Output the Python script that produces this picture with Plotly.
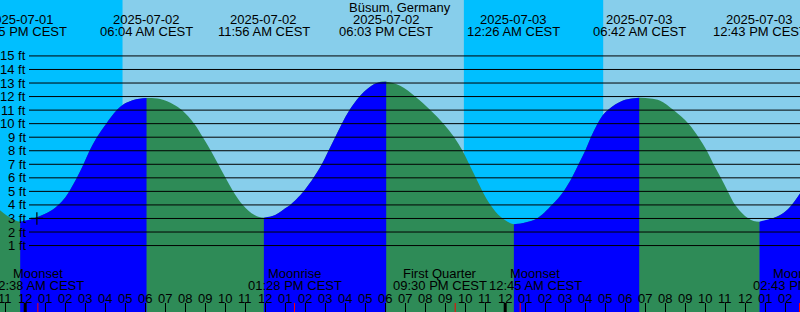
import plotly.graph_objects as go
import pandas as pd

TITLE = "Büsum, Germany"

# Tide curve (time, height in ft)
TIMES = [
    "2025-07-01 22:44", "2025-07-01 23:15", "2025-07-01 23:45",
    "2025-07-02 00:25", "2025-07-02 01:00", "2025-07-02 01:30", "2025-07-02 01:55",
    "2025-07-02 02:12", "2025-07-02 02:35", "2025-07-02 02:55", "2025-07-02 03:13",
    "2025-07-02 03:35", "2025-07-02 04:03", "2025-07-02 04:35", "2025-07-02 05:00",
    "2025-07-02 05:30", "2025-07-02 06:04",
    "2025-07-02 06:45", "2025-07-02 07:25", "2025-07-02 07:50", "2025-07-02 08:27",
    "2025-07-02 08:53", "2025-07-02 09:17", "2025-07-02 09:39", "2025-07-02 10:01",
    "2025-07-02 10:24", "2025-07-02 10:53", "2025-07-02 11:28", "2025-07-02 11:56",
    "2025-07-02 12:30", "2025-07-02 13:00", "2025-07-02 13:15", "2025-07-02 13:55",
    "2025-07-02 14:25", "2025-07-02 14:50", "2025-07-02 15:10", "2025-07-02 15:30",
    "2025-07-02 15:50", "2025-07-02 16:13", "2025-07-02 16:43", "2025-07-02 17:06",
    "2025-07-02 17:35", "2025-07-02 18:03",
    "2025-07-02 18:45", "2025-07-02 19:30", "2025-07-02 20:15", "2025-07-02 20:55",
    "2025-07-02 21:27", "2025-07-02 21:52", "2025-07-02 22:12", "2025-07-02 22:32",
    "2025-07-02 22:52", "2025-07-02 23:16", "2025-07-02 23:47", "2025-07-03 00:26",
    "2025-07-03 01:00", "2025-07-03 01:35", "2025-07-03 02:20", "2025-07-03 02:55",
    "2025-07-03 03:20", "2025-07-03 03:40", "2025-07-03 04:00", "2025-07-03 04:17",
    "2025-07-03 04:35", "2025-07-03 04:52", "2025-07-03 05:10", "2025-07-03 05:30",
    "2025-07-03 06:00", "2025-07-03 06:42",
    "2025-07-03 07:15", "2025-07-03 07:45", "2025-07-03 08:25", "2025-07-03 09:10",
    "2025-07-03 09:40", "2025-07-03 10:05", "2025-07-03 10:25", "2025-07-03 10:47",
    "2025-07-03 11:08", "2025-07-03 11:30", "2025-07-03 12:10", "2025-07-03 12:43",
    "2025-07-03 13:45", "2025-07-03 14:15", "2025-07-03 14:46",
]
HEIGHTS = [
    3.62, 3.06, 2.76,
    3.0, 3.35, 3.8, 4.4,
    5.0, 6.0, 7.0, 8.0,
    9.0, 10.0, 11.0, 11.5,
    11.79, 11.9,
    11.82, 11.42, 11.0, 10.0,
    9.0, 8.0, 7.0, 6.0,
    5.0, 4.0, 3.25, 3.05,
    3.25, 3.75, 4.0, 5.0,
    6.0, 7.0, 8.0, 9.0,
    10.0, 11.0, 12.0, 12.56,
    13.0, 13.1,
    12.8, 12.0, 11.0, 10.0,
    9.0, 8.0, 7.0, 6.0,
    5.0, 4.0, 3.1, 2.57,
    2.7, 3.0, 4.0, 5.0,
    6.0, 7.0, 8.0, 9.0,
    9.9, 10.6, 11.05, 11.42,
    11.77, 11.92,
    11.85, 11.7, 11.0, 10.0,
    9.0, 8.0, 7.0, 6.0,
    5.0, 4.0, 3.0, 2.76,
    3.25, 3.87, 4.9,
]

# High / low tide events (labels at top)
EXTREME_TIMES = ["2025-07-01 23:45", "2025-07-02 06:04", "2025-07-02 11:56",
                 "2025-07-02 18:03", "2025-07-03 00:26", "2025-07-03 06:42",
                 "2025-07-03 12:43"]
EXTREME_DATES = ["2025-07-01", "2025-07-02", "2025-07-02", "2025-07-02",
                 "2025-07-03", "2025-07-03", "2025-07-03"]
EXTREME_LABELS = ["11:45 PM CEST", "06:04 AM CEST", "11:56 AM CEST", "06:03 PM CEST",
                  "12:26 AM CEST", "06:42 AM CEST", "12:43 PM CEST"]

# Night periods (sunset -> sunrise)
NIGHT_START = ["2025-07-01 22:00", "2025-07-02 21:56"]
NIGHT_END = ["2025-07-02 04:52", "2025-07-03 04:54"]

# Moon events (labels at bottom)
MOON_TIMES = ["2025-07-02 00:38", "2025-07-02 13:28", "2025-07-02 21:30",
              "2025-07-03 00:45", "2025-07-03 14:43"]
MOON_EVENTS = ["Moonset", "Moonrise", "First Quarter", "Moonset", "Moonrise"]
MOON_LABELS = ["12:38 AM CEST", "01:28 PM CEST", "09:30 PM CEST",
               "12:45 AM CEST", "02:43 PM CEST"]
MOON_SHIFT = [0, 0, -15, 15, 0]

LEVELS = list(range(1, 16))
LEVEL_LABELS = [f"{v} ft" for v in LEVELS]

HOURS = pd.date_range("2025-07-01 23:00", "2025-07-03 14:00", freq="h")
HOUR_LABELS = [t.strftime("%I") for t in HOURS]
MIDNIGHTS = ["2025-07-02 00:00", "2025-07-03 00:00"]

X_START = "2025-07-01 22:44:24"
X_END = "2025-07-03 14:44:24"
Y_MIN, Y_MAX = -3.905, 19.129

DAY = "#87CEEB"
NIGHT = "#00BFFF"
FLOOD = "#0000FF"
EBB = "#2E8B57"
FONT = "Liberation Sans, Arial, sans-serif"
W, H = 800, 312

fig = go.Figure()

def add_fill(xs, ys, color):
    fig.add_trace(go.Scatter(x=[xs[0], xs[-1]], y=[Y_MIN, Y_MIN], mode="lines",
                             line=dict(width=0), hoverinfo="skip", showlegend=False))
    fig.add_trace(go.Scatter(x=xs, y=ys, mode="lines", fill="tonexty", fillcolor=color,
                             line=dict(width=0, shape="spline", smoothing=1.0),
                             hoverinfo="skip", showlegend=False))

# full curve as ebb (green), then rising segments as flood (blue) on top
add_fill(TIMES, HEIGHTS, EBB)
bounds = [0] + [TIMES.index(t) for t in EXTREME_TIMES] + [len(TIMES) - 1]
bounds = sorted(set(bounds))
for a, b in zip(bounds[:-1], bounds[1:]):
    if HEIGHTS[b] > HEIGHTS[a]:
        add_fill(TIMES[a:b + 1], HEIGHTS[a:b + 1], FLOOD)

# "+" mark
fig.add_trace(go.Scatter(x=["2025-07-02 00:35"], y=[3.0], mode="markers",
                         marker=dict(symbol="cross-thin", size=9,
                                     line=dict(width=1.2, color="black")),
                         hoverinfo="skip", showlegend=False))

shapes = []
for s, e in zip(NIGHT_START, NIGHT_END):
    shapes.append(dict(type="rect", xref="x", yref="paper", x0=s, x1=e, y0=0, y1=1,
                       fillcolor=NIGHT, line=dict(width=0), layer="below"))
for v in LEVELS:
    shapes.append(dict(type="line", xref="paper", yref="y", x0=29 / W, x1=1, y0=v, y1=v,
                       line=dict(color="black", width=1), layer="above"))
for m in MIDNIGHTS:
    shapes.append(dict(type="line", xref="x", yref="paper", x0=m, x1=m, y0=0, y1=9 / H,
                       line=dict(color="black", width=3), layer="above"))
for m in MOON_TIMES:
    shapes.append(dict(type="line", xref="x", yref="paper", x0=m, x1=m, y0=0, y1=9 / H,
                       line=dict(color="red", width=1), layer="above"))

ann = []
def txt(x, py, text, xref="x", xanchor="center", xshift=0):
    ann.append(dict(x=x, y=1 - py / H, xref=xref, yref="paper", text=text, showarrow=False,
                    xanchor=xanchor, yanchor="middle", xshift=xshift,
                    font=dict(family=FONT, size=13, color="black")))

txt(0.5, 7.8, TITLE, xref="paper")
for t, d, l in zip(EXTREME_TIMES, EXTREME_DATES, EXTREME_LABELS):
    txt(t, 19.8, d)
    txt(t, 31.4, l)
for t, ev, l, sh in zip(MOON_TIMES, MOON_EVENTS, MOON_LABELS, MOON_SHIFT):
    txt(t, 273.6, ev, xshift=sh)
    txt(t, 285.6, l, xshift=sh)
for t, l in zip(HOURS, HOUR_LABELS):
    txt(t, 298, l)
for v, l in zip(LEVELS, LEVEL_LABELS):
    ann.append(dict(x=27.5 / W, y=v, xref="paper", yref="y", text=l, showarrow=False,
                    xanchor="right", yanchor="middle",
                    font=dict(family=FONT, size=13, color="black")))

fig.update_layout(
    width=W, height=H, margin=dict(l=0, r=0, t=0, b=0, pad=0),
    paper_bgcolor=DAY, plot_bgcolor=DAY,
    shapes=shapes, annotations=ann, showlegend=False,
    xaxis=dict(type="date", range=[X_START, X_END], showgrid=False, zeroline=False,
               showline=False, showticklabels=False, ticks="inside", ticklen=9,
               tickwidth=1, tickcolor="black", dtick=3600000, tick0="2025-07-02 00:00",
               fixedrange=True),
    yaxis=dict(range=[Y_MIN, Y_MAX], showgrid=False, zeroline=False, showline=False,
               showticklabels=False, ticks="", fixedrange=True),
)

fig.write_html("out.html")
